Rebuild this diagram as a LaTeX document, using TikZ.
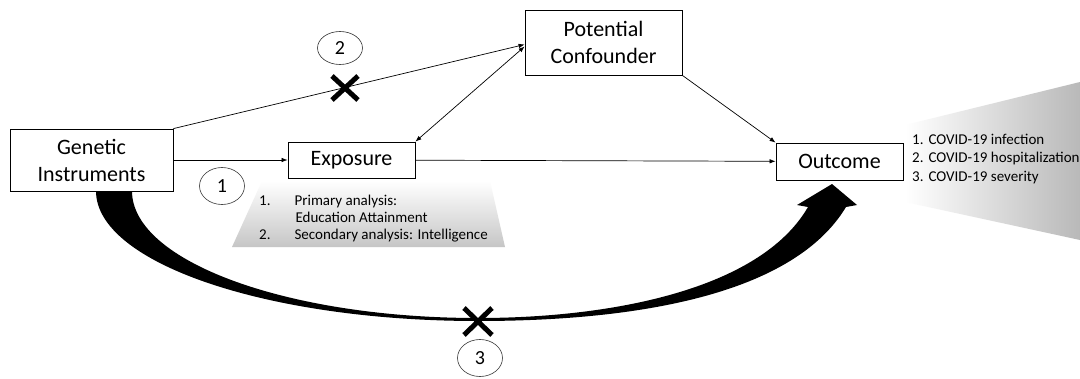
\documentclass[tikz,border=0pt]{standalone}
\usepackage{fontspec}
\setmainfont{Carlito}
\usetikzlibrary{arrows.meta,shapes.geometric}

\tikzset{
  varbox/.style={draw, fill=white, line width=0.8pt, align=center, inner sep=0pt,
    font=\fontsize{22}{27}\selectfont},
  numcirc/.style={ellipse, draw=black!80, line width=0.6pt, inner sep=0pt,
    minimum width=45pt, minimum height=37pt, font=\fontsize{20}{24}\selectfont},
  link/.style={line width=0.7pt, -{Latex[length=6pt,width=4.5pt]}},
  link2/.style={line width=0.7pt, {Latex[length=6pt,width=4.5pt]}-{Latex[length=6pt,width=4.5pt]}},
  nogo/.style={line width=5pt}
}

\begin{document}
\begin{tikzpicture}[x=1pt,y=-1pt]
  \path[use as bounding box, fill=white] (0,0) rectangle (1080,378);

  \shade[top color=white, bottom color=gray!45] (262,181) -- (490,181) -- (505,247) -- (232,247) -- cycle;
  \shade[left color=white, right color=gray!55] (905,125) -- (1080,82) -- (1080,240) -- (905,202) -- cycle;

  \fill[black] (96,191) .. controls (96,262.8) and (267,321) .. (478,321)
    .. controls (620,321) and (790,300) .. (846,207)
    -- (857,205) -- (832,184) -- (797,205) -- (808,207)
    .. controls (760,290) and (610,318) .. (478,318)
    .. controls (286.9,318) and (132,261.1) .. (132,191) -- cycle;

  \node[varbox, minimum width=163pt, minimum height=62pt] (gen) at (91.5,160) {Genetic\\Instruments};
  \node[varbox, minimum width=127pt, minimum height=36pt] (expo) at (351.5,160) {Exposure};
  \node[varbox, minimum width=157pt, minimum height=65pt] (conf) at (603.5,42.5) {Potential\\Confounder};
  \node[varbox, minimum width=127pt, minimum height=37pt] (outc) at (839.5,161.5) {Outcome};

  \draw[link] (gen.east) -- (expo.west);
  \draw[link] (gen.north east) -- ([yshift=-2pt]conf.west);
  \draw[link2] ([yshift=-4pt]conf.west) -- (expo.north east);
  \draw[link] (conf.south east) -- (outc.north west);
  \draw[link] (expo) -- (outc);

  \draw[nogo] (332,76) -- (358,100) (332,100) -- (358,76);
  \draw[nogo] (464,308) -- (492,335) (464,335) -- (492,308);

  \node[numcirc] (n1) at (222,186) {1};
  \node[numcirc, minimum height=33pt] (n2) at (340,48) {2};
  \node[numcirc] (n3) at (480,358) {3};

  \node[anchor=base west, inner sep=0pt, font=\fontsize{15}{17}\selectfont] (expolist) at (259,205.5)
    {\begin{tabular}[t]{@{}l@{\hspace{24pt}}l@{}}
      1. & Primary analysis:\\
         & \hspace{1pt}Education Attainment\\
      2. & Secondary analysis: Intelligence
    \end{tabular}};
  \node[anchor=base west, inner sep=0pt, font=\fontsize{15}{18.5}\selectfont] (outclist) at (912,144)
    {\begin{tabular}[t]{@{}l@{\hspace{5pt}}l@{}}
      1. & COVID-19 infection\\
      2. & COVID-19 hospitalization\\
      3. & COVID-19 severity
    \end{tabular}};
\end{tikzpicture}
\end{document}
